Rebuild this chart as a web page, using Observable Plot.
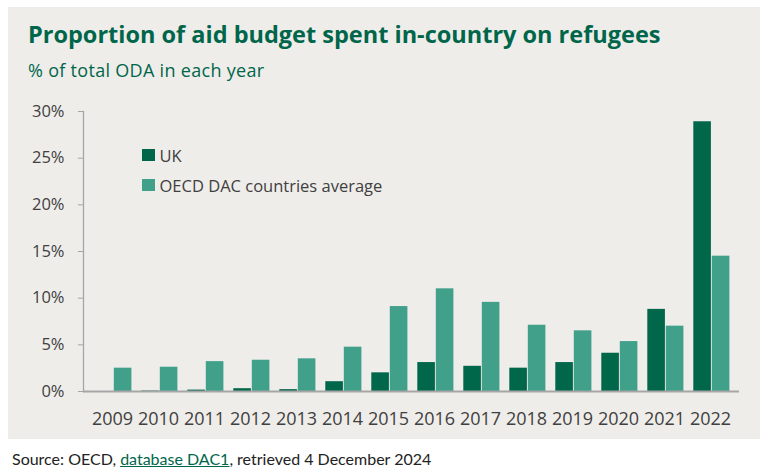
<!DOCTYPE html>
<html>
<head>
<meta charset="utf-8">
<script src="https://cdn.jsdelivr.net/npm/d3@7"></script>
<script src="https://cdn.jsdelivr.net/npm/@observablehq/plot@0.6"></script>
<style>
  html, body { margin: 0; padding: 0; background: #ffffff; }
  body { width: 769px; height: 473px; position: relative; overflow: hidden; }
  #panel { position: absolute; left: 8px; top: 7px; width: 752px; height: 432px; background: #efedea; }
  #title { position: absolute; left: 20px; top: 14px; margin: 0; font: bold 23.5px "Open Sans", sans-serif; color: #00664a; line-height: 26px; white-space: nowrap; }
  #subtitle { position: absolute; left: 20px; top: 53px; margin: 0; font: 18px "Open Sans", sans-serif; color: #00664a; line-height: 20px; white-space: nowrap; letter-spacing: 0.3px; }
  #chart { position: absolute; left: 0; top: 83px; }
  #legend { position: absolute; left: 134px; top: 133px; font: 16.5px "Open Sans", sans-serif; color: #404040; }
  .item { display: flex; align-items: center; height: 30px; }
  .sw { width: 12.5px; height: 12px; margin-right: 5px; }
  #source { position: absolute; left: 12px; top: 449px; font: 16px Lato, sans-serif; color: #222; white-space: nowrap; line-height: 20px; }
  #source a { color: #00664a; text-decoration: underline; }
</style>
</head>
<body>
<div id="panel">
  <div id="title">Proportion of aid budget spent in-country on refugees</div>
  <div id="subtitle">% of total ODA in each year</div>
  <div id="chart"></div>
  <div id="legend"></div>
</div>
<div id="source">Source: OECD, <a>database DAC1</a>, retrieved 4 December 2024</div>
<script>
const years = ["2009","2010","2011","2012","2013","2014","2015","2016","2017","2018","2019","2020","2021","2022"];
const seriesNames = ["UK", "OECD DAC countries average"];
const ukValues   = [0, 0.05, 0.15, 0.3, 0.2, 1.05, 2.0, 3.1, 2.7, 2.5, 3.1, 4.1, 8.8, 28.9];
const oecdValues = [2.5, 2.6, 3.2, 3.35, 3.5, 4.75, 9.1, 11.0, 9.55, 7.1, 6.5, 5.35, 7.0, 14.5];
const yTicks = [0, 5, 10, 15, 20, 25, 30];
const colors = ["#00674a", "#40a08a"];

const ukRows = years.map((year, i) => ({year, series: seriesNames[0], value: ukValues[i]}));
const oecdRows = years.map((year, i) => ({year, series: seriesNames[1], value: oecdValues[i]}));

const axisGrey = "#a6a6a6";

const chart = Plot.plot({
  width: 752,
  height: 356,
  marginTop: 21,
  marginBottom: 55,
  marginLeft: 75,
  marginRight: 21,
  style: { background: "transparent", fontFamily: "'Open Sans', sans-serif", color: "#404040", overflow: "visible" },
  x: { domain: years, padding: 0, label: null, axis: null },
  y: { domain: [0, 30], label: null, axis: null },
  marks: [
    Plot.frame({ anchor: "left", stroke: axisGrey, strokeWidth: 1.3 }),
    Plot.barY(ukRows, { x: "year", y: "value", fill: colors[0], insetLeft: 6.3, insetRight: 22.1 }),
    Plot.barY(oecdRows, { x: "year", y: "value", fill: colors[1], insetLeft: 24.8, insetRight: 3.6 }),
    Plot.ruleY([0], { stroke: axisGrey, strokeWidth: 2 }),
    Plot.axisY({ ticks: yTicks, tickFormat: d => d + "%", tickSize: 5, tickPadding: 14, fontSize: 16.5, stroke: axisGrey, fill: "#404040" }),
    Plot.axisX({ tickSize: 0, tickPadding: 21, fontSize: 18, fill: "#404040" })
  ]
});
document.getElementById("chart").appendChild(chart);

const legend = document.getElementById("legend");
seriesNames.forEach((name, i) => {
  const item = document.createElement("div");
  item.className = "item";
  const sw = document.createElement("span");
  sw.className = "sw";
  sw.style.background = colors[i];
  const label = document.createElement("span");
  label.textContent = name;
  item.appendChild(sw);
  item.appendChild(label);
  legend.appendChild(item);
});
</script>
</body>
</html>
